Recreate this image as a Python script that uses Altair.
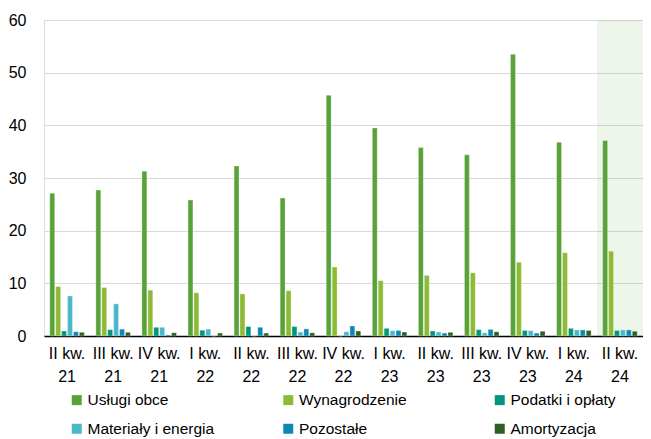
import altair as alt
import pandas as pd

quarters = ["II kw.", "III kw.", "IV kw.", "I kw.", "II kw.", "III kw.", "IV kw.",
            "I kw.", "II kw.", "III kw.", "IV kw.", "I kw.", "II kw."]
years = ["21", "21", "21", "22", "22", "22", "22", "23", "23", "23", "23", "24", "24"]
categories = [f"{q} {y}" for q, y in zip(quarters, years)]

series = ["Usługi obce", "Wynagrodzenie", "Podatki i opłaty",
          "Materiały i energia", "Pozostałe", "Amortyzacja"]
colors = ["#58a23a", "#8dbb35", "#00967a", "#4bb8c9", "#0b88b3", "#2e5f22"]

uslugi = [27.1, 27.7, 31.3, 25.8, 32.3, 26.2, 45.7, 39.5, 35.8, 34.4, 53.5, 36.8, 37.1]
wynagrodzenie = [9.4, 9.2, 8.7, 8.2, 8.0, 8.6, 13.1, 10.5, 11.5, 12.0, 14.0, 15.8, 16.1]
podatki = [0.95, 1.2, 1.65, 1.1, 1.8, 1.8, 0.0, 1.45, 0.95, 1.2, 1.05, 1.45, 1.05]
materialy = [7.6, 6.1, 1.65, 1.3, 0.0, 0.75, 0.8, 1.0, 0.75, 0.6, 1.0, 1.15, 1.15]
pozostale = [0.8, 1.3, 0.2, 0.0, 1.65, 1.35, 1.9, 1.05, 0.55, 1.25, 0.55, 1.15, 1.15]
amortyzacja = [0.7, 0.7, 0.6, 0.55, 0.55, 0.6, 0.95, 0.75, 0.7, 0.8, 0.9, 1.05, 0.9]

highlighted = ["II kw. 24"]

values = [uslugi, wynagrodzenie, podatki, materialy, pozostale, amortyzacja]
rows = []
for s, vals in zip(series, values):
    for c, v in zip(categories, vals):
        rows.append({"kwartal": c, "seria": s, "wartosc": v})
df = pd.DataFrame(rows)
shade_df = pd.DataFrame({"kwartal": highlighted, "top": [60], "bottom": [0]})

FONT = "Liberation Sans"
W, H = 599, 316

label_expr = "[substring(datum.label, 0, length(datum.label) - 3), substring(datum.label, length(datum.label) - 2)]"

y_axis = alt.Axis(title=None, values=[0, 10, 20, 30, 40, 50, 60], ticks=False,
                  domain=False, gridColor="#d9d9d9", gridWidth=1.2,
                  labelFont=FONT, labelFontSize=16, labelColor="#000000",
                  labelPadding=18)
y_scale = alt.Scale(domain=[0, 60])

shade = alt.Chart(shade_df).mark_rect(color="#5aa03a", opacity=0.1).encode(
    x=alt.X("kwartal:N", sort=categories,
            scale=alt.Scale(domain=categories, paddingInner=0, paddingOuter=0), axis=None),
    y=alt.Y("top:Q", scale=y_scale, axis=y_axis),
    y2="bottom:Q",
)

bars = alt.Chart(df).mark_bar(stroke="#ffffff", strokeWidth=0.6, strokeOpacity=0.5).encode(
    x=alt.X("kwartal:N", sort=categories,
            scale=alt.Scale(domain=categories, paddingInner=0.229, paddingOuter=0.115),
            axis=alt.Axis(title=None, labelExpr=label_expr, labelAngle=0, ticks=False,
                          domainColor="#000000", domainWidth=1.5, labelFont=FONT,
                          labelFontSize=16, labelColor="#000000", labelPadding=9,
                          labelLineHeight=23.5, grid=False)),
    xOffset=alt.XOffset("seria:N", sort=series,
                        scale=alt.Scale(domain=series, paddingInner=0.17, paddingOuter=0.085)),
    y=alt.Y("wartosc:Q", scale=y_scale, axis=y_axis),
    color=alt.Color("seria:N", sort=series,
                    scale=alt.Scale(domain=series, range=colors),
                    legend=alt.Legend(title=None, orient="none", legendX=25, legendY=372,
                                      columns=3, direction="horizontal", symbolType="square",
                                      symbolSize=100, symbolStrokeWidth=0, labelFont=FONT,
                                      labelFontSize=15.5, labelColor="#000000",
                                      gridAlign="all", columnPadding=65.5, rowPadding=12,
                                      labelOffset=3)),
)

chart = alt.layer(shade, bars).resolve_scale(x="independent").properties(
    width=W, height=H,
    padding={"left": 0, "top": 4, "right": 0, "bottom": 0},
).configure_view(stroke=None).configure(font=FONT)

chart.save("out.html", embed_options={"renderer": "svg", "actions": False})
